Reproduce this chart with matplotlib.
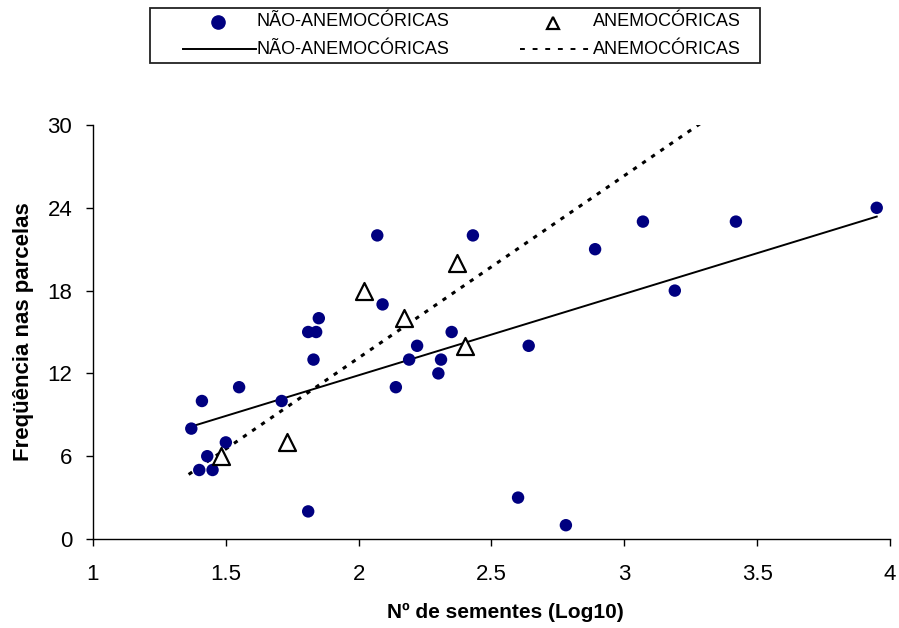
import numpy as np
import matplotlib
matplotlib.use("Agg")
import matplotlib.pyplot as plt
from matplotlib.lines import Line2D
from matplotlib.patches import Rectangle

plt.rcParams['font.family'] = ['Liberation Sans', 'DejaVu Sans']

# Non-anemochorous species (circles)
nao_x = [1.37, 1.40, 1.41, 1.43, 1.45, 1.50, 1.55, 1.71, 1.81, 1.81, 1.83, 1.84,
         1.85, 2.07, 2.09, 2.14, 2.19, 2.22, 2.30, 2.31, 2.35, 2.43, 2.60, 2.64,
         2.78, 2.89, 3.07, 3.19, 3.42, 3.95]
nao_y = [8, 5, 10, 6, 5, 7, 11, 10, 2, 15, 13, 15,
         16, 22, 17, 11, 13, 14, 12, 13, 15, 22, 3, 14,
         1, 21, 23, 18, 23, 24]

# Anemochorous species (triangles)
anem_x = [1.48, 1.73, 2.02, 2.17, 2.37, 2.40]
anem_y = [6, 7, 18, 16, 20, 14]

# Trend line extents
nao_line_x = [1.37, 3.95]
anem_line_x = [1.36, 3.30]

xticks = [1, 1.5, 2, 2.5, 3, 3.5, 4]
yticks = [0, 6, 12, 18, 24, 30]

NAVY = '#000080'
W, H = 899, 628

fig = plt.figure(figsize=(W/100, H/100), dpi=100)
ax = fig.add_axes([93/W, 1-539/H, (890-93)/W, (539-125)/H])

# trend lines (linear least squares)
p1 = np.polyfit(nao_x, nao_y, 1)
p2 = np.polyfit(anem_x, anem_y, 1)
lx1 = np.array(nao_line_x)
lx2 = np.array(anem_line_x)
ax.plot(lx1, np.polyval(p1, lx1), color='black', lw=1.4, zorder=2)
ax.plot(lx2, np.polyval(p2, lx2), color='black', lw=2.2, linestyle=(0, (1.4, 2.2)), zorder=2)

ax.scatter(nao_x, nao_y, s=80, color=NAVY, edgecolors='none', zorder=3)
ax.scatter(anem_x, anem_y, s=150, marker='^', facecolors='white', edgecolors='black',
           linewidths=1.6, zorder=4)

ax.set_xlim(1, 4)
ax.set_ylim(0, 30)
ax.set_xticks(xticks)
ax.set_xticklabels([f"{t:g}" for t in xticks])
ax.set_yticks(yticks)
ax.tick_params(axis='both', labelsize=16, length=5, width=1, direction='out', color='black')
ax.tick_params(axis='x', pad=13)
ax.tick_params(axis='y', pad=10)
for s in ['top', 'right']:
    ax.spines[s].set_visible(False)
for s in ['left', 'bottom']:
    ax.spines[s].set_linewidth(1)

ax.set_xlabel('Nº de sementes (Log10)', fontsize=15, fontweight='bold')
ax.set_ylabel('Freqüência nas parcelas', fontsize=16, fontweight='bold')
ax.xaxis.set_label_coords((505-93)/797, (539-603)/414)
ax.yaxis.set_label_coords((34-93)/797, 0.5)

# ---- manual legend box at top ----
def fx(px):
    return px / W

def fy(py):
    return 1 - py / H

fig.add_artist(Rectangle((fx(150), fy(63)), fx(760) - fx(150), fy(8) - fy(63),
                         transform=fig.transFigure, facecolor='white',
                         edgecolor='#222222', lw=1.3))
r1, r2 = fy(22), fy(49)
lab_nao = 'NÃO-ANEMOCÓRICAS'
lab_anem = 'ANEMOCÓRICAS'
fs = 13
fig.add_artist(Line2D([fx(218)], [r1], transform=fig.transFigure, marker='o',
                      color=NAVY, linestyle='none', markersize=9.5))
fig.text(fx(257), r1, lab_nao, fontsize=fs, va='center', ha='left')
fig.add_artist(Line2D([fx(553)], [r1 - 0.002], transform=fig.transFigure, marker='^',
                      markerfacecolor='white', markeredgecolor='black',
                      linestyle='none', markersize=9, markeredgewidth=1.6))
fig.text(fx(593), r1, lab_anem, fontsize=fs, va='center', ha='left')
fig.add_artist(Line2D([fx(183), fx(256)], [r2, r2], transform=fig.transFigure,
                      color='black', lw=1.4))
fig.text(fx(257), r2, lab_nao, fontsize=fs, va='center', ha='left')
fig.add_artist(Line2D([fx(520), fx(592)], [r2, r2], transform=fig.transFigure,
                      color='black', lw=1.4, linestyle=(0, (2.5, 4))))
fig.text(fx(593), r2, lab_anem, fontsize=fs, va='center', ha='left')

fig.savefig('out.png', dpi=100)
